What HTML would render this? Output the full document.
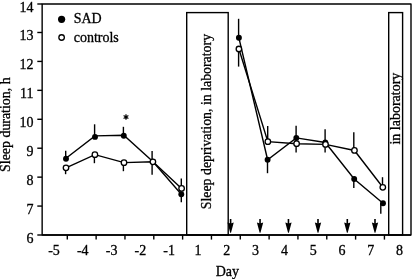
<!DOCTYPE html><html><head><meta charset="utf-8"><style>html,body{margin:0;padding:0;background:#fff;}svg{display:block;filter:grayscale(1);}text{font-family:"Liberation Serif",serif;fill:#000;stroke:#000;stroke-width:0.3px;}</style></head><body>
<svg width="413" height="279" viewBox="0 0 413 279">
<rect x="42.15" y="4.0" width="368.85" height="231.0" fill="none" stroke="#000" stroke-width="1.4" stroke-linejoin="round"/>
<line x1="42.15" y1="235.0" x2="411.0" y2="235.0" stroke="#000" stroke-width="1.5"/>
<line x1="37.3" y1="4.00" x2="42.15" y2="4.00" stroke="#000" stroke-width="1.4"/>
<text x="33.6" y="11.70" font-size="14" text-anchor="end">14</text>
<line x1="37.3" y1="32.49" x2="42.15" y2="32.49" stroke="#000" stroke-width="1.4"/>
<text x="33.6" y="40.19" font-size="14" text-anchor="end">13</text>
<line x1="37.3" y1="61.42" x2="42.15" y2="61.42" stroke="#000" stroke-width="1.4"/>
<text x="33.6" y="69.12" font-size="14" text-anchor="end">12</text>
<line x1="37.3" y1="90.35" x2="42.15" y2="90.35" stroke="#000" stroke-width="1.4"/>
<text x="33.6" y="98.05" font-size="14" text-anchor="end">11</text>
<line x1="37.3" y1="119.28" x2="42.15" y2="119.28" stroke="#000" stroke-width="1.4"/>
<text x="33.6" y="126.98" font-size="14" text-anchor="end">10</text>
<line x1="37.3" y1="148.21" x2="42.15" y2="148.21" stroke="#000" stroke-width="1.4"/>
<text x="33.6" y="155.91" font-size="14" text-anchor="end">9</text>
<line x1="37.3" y1="177.14" x2="42.15" y2="177.14" stroke="#000" stroke-width="1.4"/>
<text x="33.6" y="184.84" font-size="14" text-anchor="end">8</text>
<line x1="37.3" y1="206.07" x2="42.15" y2="206.07" stroke="#000" stroke-width="1.4"/>
<text x="33.6" y="213.77" font-size="14" text-anchor="end">7</text>
<line x1="37.3" y1="235.00" x2="42.15" y2="235.00" stroke="#000" stroke-width="1.4"/>
<text x="33.6" y="242.70" font-size="14" text-anchor="end">6</text>
<line x1="67.30" y1="235.0" x2="67.30" y2="239.6" stroke="#000" stroke-width="1.4"/>
<line x1="96.13" y1="235.0" x2="96.13" y2="239.6" stroke="#000" stroke-width="1.4"/>
<line x1="124.96" y1="235.0" x2="124.96" y2="239.6" stroke="#000" stroke-width="1.4"/>
<line x1="153.79" y1="235.0" x2="153.79" y2="239.6" stroke="#000" stroke-width="1.4"/>
<line x1="182.62" y1="235.0" x2="182.62" y2="239.6" stroke="#000" stroke-width="1.4"/>
<line x1="211.45" y1="235.0" x2="211.45" y2="239.6" stroke="#000" stroke-width="1.4"/>
<line x1="240.28" y1="235.0" x2="240.28" y2="239.6" stroke="#000" stroke-width="1.4"/>
<line x1="269.11" y1="235.0" x2="269.11" y2="239.6" stroke="#000" stroke-width="1.4"/>
<line x1="297.94" y1="235.0" x2="297.94" y2="239.6" stroke="#000" stroke-width="1.4"/>
<line x1="326.77" y1="235.0" x2="326.77" y2="239.6" stroke="#000" stroke-width="1.4"/>
<line x1="355.60" y1="235.0" x2="355.60" y2="239.6" stroke="#000" stroke-width="1.4"/>
<line x1="384.43" y1="235.0" x2="384.43" y2="239.6" stroke="#000" stroke-width="1.4"/>
<text x="54.00" y="254.5" font-size="14" text-anchor="middle">-5</text>
<text x="82.80" y="254.5" font-size="14" text-anchor="middle">-4</text>
<text x="111.60" y="254.5" font-size="14" text-anchor="middle">-3</text>
<text x="140.40" y="254.5" font-size="14" text-anchor="middle">-2</text>
<text x="169.20" y="254.5" font-size="14" text-anchor="middle">-1</text>
<text x="198.00" y="254.5" font-size="14" text-anchor="middle">1</text>
<text x="226.80" y="254.5" font-size="14" text-anchor="middle">2</text>
<text x="255.60" y="254.5" font-size="14" text-anchor="middle">3</text>
<text x="284.40" y="254.5" font-size="14" text-anchor="middle">4</text>
<text x="313.20" y="254.5" font-size="14" text-anchor="middle">5</text>
<text x="342.00" y="254.5" font-size="14" text-anchor="middle">6</text>
<text x="370.80" y="254.5" font-size="14" text-anchor="middle">7</text>
<text x="399.60" y="254.5" font-size="14" text-anchor="middle">8</text>
<text x="227.3" y="276.3" font-size="14" text-anchor="middle">Day</text>
<text transform="translate(9.6,124.65) rotate(-90)" font-size="13.9" text-anchor="middle">Sleep duration, h</text>
<rect x="186.7" y="12.6" width="41.5" height="222.4" fill="none" stroke="#000" stroke-width="1.4"/>
<rect x="388.7" y="12.6" width="13.900000000000034" height="222.4" fill="none" stroke="#000" stroke-width="1.4"/>
<text transform="translate(211,121.6) rotate(-90)" font-size="13.85" text-anchor="middle">Sleep deprivation, in laboratory</text>
<text transform="translate(399.8,108.6) rotate(-90)" font-size="14" text-anchor="middle">in laboratory</text>
<line x1="230.60" y1="219.0" x2="230.60" y2="225" stroke="#000" stroke-width="1.6"/>
<path d="M227.45 222.6 L230.60 223.4 L233.75 222.6 L231.00 232.7 L230.20 232.7 Z" fill="#000"/>
<line x1="260.05" y1="219.0" x2="260.05" y2="225" stroke="#000" stroke-width="1.6"/>
<path d="M256.90 222.6 L260.05 223.4 L263.20 222.6 L260.45 232.7 L259.65 232.7 Z" fill="#000"/>
<line x1="288.45" y1="219.0" x2="288.45" y2="225" stroke="#000" stroke-width="1.6"/>
<path d="M285.30 222.6 L288.45 223.4 L291.60 222.6 L288.85 232.7 L288.05 232.7 Z" fill="#000"/>
<line x1="318.00" y1="219.0" x2="318.00" y2="225" stroke="#000" stroke-width="1.6"/>
<path d="M314.85 222.6 L318.00 223.4 L321.15 222.6 L318.40 232.7 L317.60 232.7 Z" fill="#000"/>
<line x1="347.30" y1="219.0" x2="347.30" y2="225" stroke="#000" stroke-width="1.6"/>
<path d="M344.15 222.6 L347.30 223.4 L350.45 222.6 L347.70 232.7 L346.90 232.7 Z" fill="#000"/>
<line x1="375.00" y1="219.0" x2="375.00" y2="225" stroke="#000" stroke-width="1.6"/>
<path d="M371.85 222.6 L375.00 223.4 L378.15 222.6 L375.40 232.7 L374.60 232.7 Z" fill="#000"/>
<line x1="65.7" y1="150.8" x2="65.7" y2="158.8" stroke="#000" stroke-width="1.4"/>
<line x1="94.6" y1="124.3" x2="94.6" y2="136.9" stroke="#000" stroke-width="1.4"/>
<line x1="123.4" y1="126.8" x2="123.4" y2="135.8" stroke="#000" stroke-width="1.4"/>
<line x1="152.1" y1="151.1" x2="152.1" y2="174.7" stroke="#000" stroke-width="1.4"/>
<line x1="181.3" y1="178.6" x2="181.3" y2="202.3" stroke="#000" stroke-width="1.4"/>
<line x1="238.6" y1="18.8" x2="238.6" y2="37.8" stroke="#000" stroke-width="1.4"/>
<line x1="267.5" y1="159.7" x2="267.5" y2="173.2" stroke="#000" stroke-width="1.4"/>
<line x1="296.1" y1="125.7" x2="296.1" y2="152.5" stroke="#000" stroke-width="1.4"/>
<line x1="325.1" y1="129.2" x2="325.1" y2="152.4" stroke="#000" stroke-width="1.4"/>
<line x1="353.8" y1="179.0" x2="353.8" y2="188.0" stroke="#000" stroke-width="1.4"/>
<line x1="380.8" y1="203.2" x2="380.8" y2="213.7" stroke="#000" stroke-width="1.4"/>
<line x1="65.6" y1="167.8" x2="65.6" y2="174.2" stroke="#000" stroke-width="1.4"/>
<line x1="94.4" y1="154.65" x2="94.4" y2="163.2" stroke="#000" stroke-width="1.4"/>
<line x1="123.4" y1="162.65" x2="123.4" y2="171.2" stroke="#000" stroke-width="1.4"/>
<line x1="238.6" y1="49.0" x2="238.6" y2="66.6" stroke="#000" stroke-width="1.4"/>
<line x1="267.7" y1="126.0" x2="267.7" y2="141.65" stroke="#000" stroke-width="1.4"/>
<line x1="353.8" y1="132.2" x2="353.8" y2="150.45" stroke="#000" stroke-width="1.4"/>
<line x1="382.5" y1="177.2" x2="382.5" y2="187.3" stroke="#000" stroke-width="1.4"/>
<polyline points="66.0,158.3 95.0,135.9 123.8,135.3 152.8,161.6 181.3,194.2" fill="none" stroke="#000" stroke-width="1.4"/>
<polyline points="238.9,37.8 267.6,159.7 296.3,137.9 325.3,142.5 354.2,179.0 383.0,203.2" fill="none" stroke="#000" stroke-width="1.4"/>
<polyline points="66.0,167.8 94.9,154.65 124.0,162.65 152.9,161.8 181.6,188.4" fill="none" stroke="#000" stroke-width="1.4"/>
<polyline points="238.9,49.0 267.85,141.65 296.6,143.7 325.5,144.4 354.45,150.45 382.8,187.3" fill="none" stroke="#000" stroke-width="1.4"/>
<circle cx="66.0" cy="158.8" r="2.95" fill="#000"/>
<circle cx="95.0" cy="136.9" r="2.95" fill="#000"/>
<circle cx="123.8" cy="135.8" r="2.95" fill="#000"/>
<circle cx="152.8" cy="161.6" r="2.95" fill="#000"/>
<circle cx="181.3" cy="194.2" r="2.95" fill="#000"/>
<circle cx="238.9" cy="37.8" r="2.95" fill="#000"/>
<circle cx="267.6" cy="159.7" r="2.95" fill="#000"/>
<circle cx="296.3" cy="137.9" r="2.95" fill="#000"/>
<circle cx="325.3" cy="142.5" r="2.95" fill="#000"/>
<circle cx="354.2" cy="179.0" r="2.95" fill="#000"/>
<circle cx="383.0" cy="203.2" r="2.95" fill="#000"/>
<circle cx="66.0" cy="167.8" r="2.75" fill="#fff" stroke="#000" stroke-width="1.3"/>
<circle cx="94.9" cy="154.65" r="2.75" fill="#fff" stroke="#000" stroke-width="1.3"/>
<circle cx="124.0" cy="162.65" r="2.75" fill="#fff" stroke="#000" stroke-width="1.3"/>
<circle cx="152.9" cy="161.8" r="2.75" fill="#fff" stroke="#000" stroke-width="1.3"/>
<circle cx="181.6" cy="188.4" r="2.75" fill="#fff" stroke="#000" stroke-width="1.3"/>
<circle cx="238.9" cy="49.0" r="2.75" fill="#fff" stroke="#000" stroke-width="1.3"/>
<circle cx="267.85" cy="141.65" r="2.75" fill="#fff" stroke="#000" stroke-width="1.3"/>
<circle cx="296.6" cy="143.7" r="2.75" fill="#fff" stroke="#000" stroke-width="1.3"/>
<circle cx="325.5" cy="144.4" r="2.75" fill="#fff" stroke="#000" stroke-width="1.3"/>
<circle cx="354.45" cy="150.45" r="2.75" fill="#fff" stroke="#000" stroke-width="1.3"/>
<circle cx="382.8" cy="187.3" r="2.75" fill="#fff" stroke="#000" stroke-width="1.3"/>
<path d="M126.00 114.65L126.00 119.35M123.96 115.83L128.04 118.17M128.04 115.83L123.96 118.17" stroke="#000" stroke-width="1.15" stroke-linecap="round"/>
<circle cx="126.0" cy="117.0" r="1.2" fill="#000"/>
<circle cx="61.6" cy="19.3" r="3.6" fill="#000"/>
<circle cx="61.6" cy="37.5" r="2.75" fill="#fff" stroke="#000" stroke-width="1.3"/>
<text x="73.7" y="23.4" font-size="14">SAD</text>
<text x="73.7" y="41.9" font-size="14">controls</text>
</svg></body></html>
